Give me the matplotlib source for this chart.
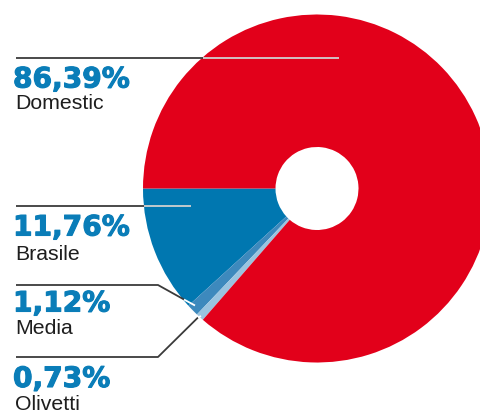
import matplotlib
matplotlib.use("Agg")
import matplotlib.pyplot as plt
import matplotlib.patheffects as pe

# Revenue split by business unit
labels = ["Brasile", "Media", "Olivetti", "Domestic"]
shares = [11.76, 1.12, 0.73, 86.39]
colors = ["#0077b0", "#3d89bd", "#9ac4e0", "#e2001a"]
pct_text = ["11,76%", "1,12%", "0,73%", "86,39%"]

W, H = 480, 413
fig = plt.figure(figsize=(W / 100, H / 100), dpi=100)
ax = fig.add_axes([0, 0, 1, 1])

cx, cy = 317, H - 188.5
r_out, r_in = 174, 41.5

ax.pie(shares, colors=colors, startangle=180, counterclock=True,
       center=(cx, cy), radius=r_out, frame=True,
       wedgeprops=dict(width=r_out - r_in, linewidth=0))
ax.set_xlim(0, W)
ax.set_ylim(0, H)
ax.set_aspect("equal")
ax.axis("off")

dark = "#3a3a3a"
light = "#d0d0d0"


def y(v):
    return H - v


# leader lines: (outside polyline points, inside segment end)
leaders = {
    "Domestic": ([(16, 58), (203, 58)], (339, 58)),
    "Brasile": ([(16, 206), (144, 206)], (191, 206)),
    "Media": ([(16, 285), (158, 285), (184, 299.5)], (195, 305.5)),
    "Olivetti": ([(16, 357), (158, 357), (198, 317.5)], (201, 316)),
}
for name, (pts, end) in leaders.items():
    xs = [p[0] for p in pts]
    ys = [y(p[1]) for p in pts]
    ax.plot(xs, ys, color=dark, lw=1.3, solid_capstyle="butt", zorder=3)
    ax.plot([pts[-1][0], end[0]], [y(pts[-1][1]), y(end[1])],
            color=light if name in ("Domestic", "Brasile") else "white",
            lw=1.3, solid_capstyle="butt", zorder=3)

# text blocks: percentage baseline, label baseline
text_pos = {
    "Domestic": (87.5, 109),
    "Brasile": (235.5, 260.5),
    "Media": (311.5, 334.5),
    "Olivetti": (387, 410),
}
heavy = [pe.withStroke(linewidth=0.8, foreground="#0a7db8")]
for name, pct in zip(labels, pct_text):
    yp, yl = text_pos[name]
    ax.text(13, y(yp), pct, fontfamily="DejaVu Sans", fontweight="bold",
            fontsize=20.2, color="#0a7db8", va="baseline", ha="left",
            path_effects=heavy)
    ax.text(15, y(yl), name, fontfamily="Liberation Sans", fontsize=15.3,
            color="#1e1e1e", va="baseline", ha="left")

fig.savefig("out.png", dpi=100)
